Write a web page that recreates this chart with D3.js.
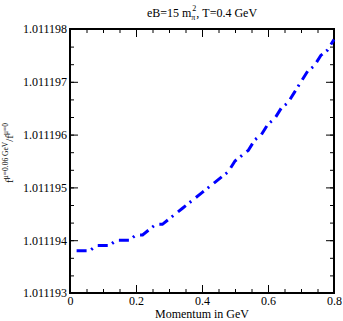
<!DOCTYPE html>
<html>
<head>
<meta charset="utf-8">
<script src="https://cdn.jsdelivr.net/npm/d3@7"></script>
<style>
  body { margin: 0; background: #fff; }
  text { font-family: "Liberation Serif", "Times New Roman", serif; fill: #000; }
</style>
</head>
<body>
<div id="chart"></div>
<script>
// momentum (GeV) and the ratio f(mu=0.06 GeV)/f(mu=0)
var momentum = [0.02, 0.04, 0.06, 0.08, 0.10, 0.12, 0.14, 0.16, 0.18, 0.20,
                0.22, 0.24, 0.26, 0.28, 0.30, 0.32, 0.34, 0.36, 0.38, 0.40,
                0.42, 0.44, 0.46, 0.48, 0.50, 0.52, 0.54, 0.56, 0.58, 0.60,
                0.62, 0.64, 0.66, 0.68, 0.70, 0.72, 0.74, 0.76, 0.78, 0.80];
var ratio = [1.0111938, 1.0111938, 1.0111938, 1.0111939, 1.0111939, 1.0111939, 1.0111940, 1.0111940, 1.0111940, 1.0111941,
             1.0111941, 1.0111942, 1.0111943, 1.0111943, 1.0111944, 1.0111945, 1.0111946, 1.0111947, 1.0111948, 1.0111949,
             1.0111950, 1.0111951, 1.0111952, 1.0111953, 1.0111955, 1.0111956, 1.0111957, 1.0111959, 1.0111960, 1.0111962,
             1.0111963, 1.0111965, 1.0111966, 1.0111968, 1.0111970, 1.0111972, 1.0111973, 1.0111975, 1.0111976, 1.0111978];

var xTicks = [0, 0.2, 0.4, 0.6, 0.8];
var yTicks = [1.011193, 1.011194, 1.011195, 1.011196, 1.011197, 1.011198];

var margin = { top: 29, right: 9, bottom: 28, left: 70 },
    width  = 343 - margin.left - margin.right,
    height = 321 - margin.top  - margin.bottom;

var svg = d3.select("#chart")
            .append("svg")
            .attr("width",  343)
            .attr("height", 321);

var g = svg.append("g")
           .attr("transform", `translate(${margin.left},${margin.top})`);

var x = d3.scaleLinear().domain([0, 0.8]).range([0, width]);
var y = d3.scaleLinear().domain([1.011193, 1.011198]).range([height, 0]);

var xMinor = d3.range(0, 0.8001, 0.05);
var yMinor = d3.range(0, 16).map(i => 1.011193 + i * 1e-6 / 3);

// minor ticks, all four sides
function minorTicks(axisFn, scale, vals, transform) {
  g.append("g")
   .attr("transform", transform)
   .call(axisFn(scale).tickValues(vals).tickSize(-4).tickFormat(""))
   .call(s => s.select(".domain").remove());
}
minorTicks(d3.axisBottom, x, xMinor, `translate(0,${height})`);
minorTicks(d3.axisTop,    x, xMinor, "translate(0,0)");
minorTicks(d3.axisLeft,   y, yMinor, "translate(0,0)");
minorTicks(d3.axisRight,  y, yMinor, `translate(${width},0)`);

// major ticks
g.append("g")
   .attr("transform", `translate(0,${height})`)
   .call(d3.axisBottom(x).tickValues(xTicks).tickSize(-8).tickPadding(3)
           .tickFormat(d => d === 0 ? "0" : d3.format(".1f")(d)));
g.append("g")
   .call(d3.axisTop(x).tickValues(xTicks).tickSize(-8).tickFormat(""));
g.append("g")
   .call(d3.axisLeft(y).tickValues(yTicks).tickSize(-8).tickPadding(3)
           .tickFormat(d3.format(".6f")));
g.append("g")
   .attr("transform", `translate(${width},0)`)
   .call(d3.axisRight(y).tickValues(yTicks).tickSize(-8).tickFormat(""));

g.selectAll(".domain").remove();
g.selectAll(".tick line").attr("stroke", "#000").attr("stroke-width", 1);
g.selectAll(".tick text")
 .style("font-family", "'Liberation Serif', 'Times New Roman', serif")
 .style("font-size", "12px")
 .attr("fill", "#000");

// frame
g.append("rect")
 .attr("x", 0).attr("y", 0)
 .attr("width", width).attr("height", height)
 .attr("fill", "none")
 .attr("stroke", "#000")
 .attr("stroke-width", 2);

// curve
var pts = momentum.map((m, i) => [m, ratio[i]]);
var line = d3.line().x(d => x(d[0])).y(d => y(d[1]));
g.append("path")
 .datum(pts)
 .attr("d", line)
 .attr("fill", "none")
 .attr("stroke", "#0000ff")
 .attr("stroke-width", 3)
 .attr("stroke-dasharray", "10,5,2,6");

// title
var title = svg.append("text")
   .attr("x", margin.left + width / 2)
   .attr("y", 17)
   .attr("text-anchor", "middle")
   .style("font-size", "12px");
title.append("tspan").text("eB=15 m");
title.append("tspan").attr("dy", 3).style("font-size", "8px").text("\u03c0");
title.append("tspan").attr("dx", -3).attr("dy", -9).style("font-size", "8px").text("2");
title.append("tspan").attr("dy", 6).text(", T=0.4 GeV");

// x label
svg.append("text")
   .attr("x", margin.left + width / 2)
   .attr("y", 318)
   .attr("text-anchor", "middle")
   .style("font-size", "12px")
   .text("Momentum in GeV");

// y label
var yl = svg.append("text")
   .attr("transform", "translate(13,153) rotate(-90)")
   .attr("text-anchor", "middle")
   .style("font-size", "11px");
yl.append("tspan").text("f");
yl.append("tspan").attr("dy", -5).style("font-size", "7.5px").text("\u03bc=0.06 GeV");
yl.append("tspan").attr("dy", 5).text("/f");
yl.append("tspan").attr("dy", -5).style("font-size", "7.5px").text("\u03bc=0");
</script>
</body>
</html>
